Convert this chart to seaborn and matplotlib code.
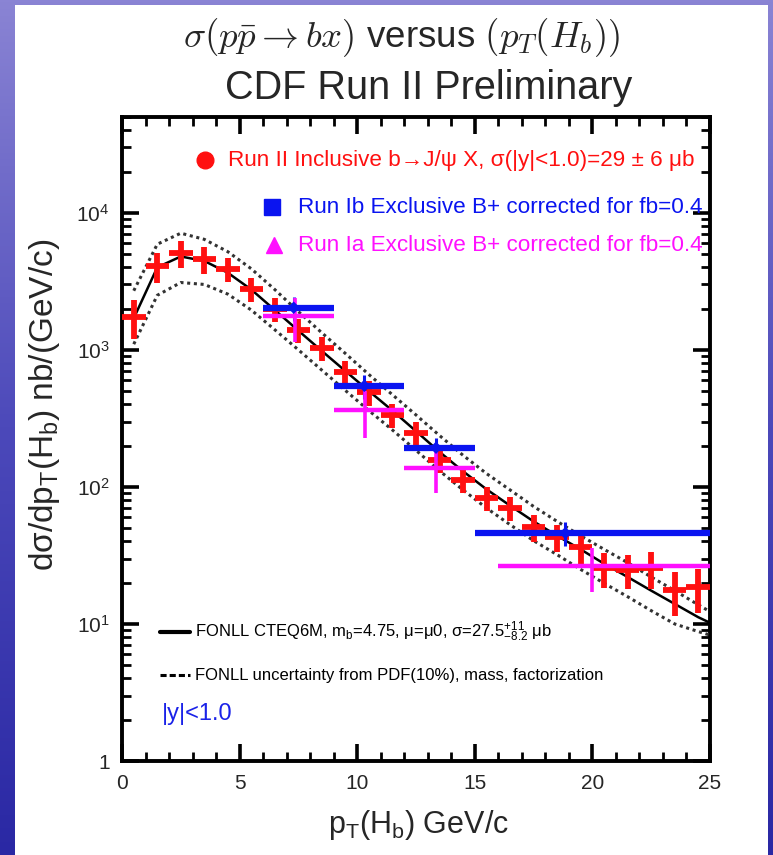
import numpy as np
import pandas as pd
import matplotlib
matplotlib.use("Agg")
import matplotlib.pyplot as plt
from matplotlib.patches import Rectangle
from matplotlib.colors import LinearSegmentedColormap
from matplotlib.ticker import FixedLocator, FixedFormatter, NullFormatter
import seaborn as sns

# ---------------- data ----------------
red_x = [0.5, 1.5, 2.5, 3.5, 4.5, 5.5, 6.5, 7.5, 8.5, 9.5, 10.5, 11.5, 12.5,
         13.5, 14.5, 15.5, 16.5, 17.5, 18.5, 19.5, 20.5, 21.5, 22.5, 23.5, 24.5]
red_y = [1750, 4100, 5100, 4600, 3900, 2800, 2000, 1400, 1035, 690, 490, 336, 248,
         157, 113, 83, 70, 51, 43, 36.5, 25.6, 24.8, 25.6, 17.7, 18.6]
red_xerr = [0.5] * 25
red_yerr_frac = [0.32, 0.25, 0.22, 0.22, 0.2, 0.2, 0.2, 0.2, 0.2, 0.2, 0.2, 0.2, 0.2,
                 0.2, 0.2, 0.2, 0.2, 0.22, 0.22, 0.25, 0.28, 0.28, 0.3, 0.35, 0.35]

blue_x = [7.3, 10.3, 13.35, 18.85]
blue_lo = [6.0, 9.0, 12.0, 15.0]
blue_hi = [9.0, 12.0, 15.0, 25.0]
blue_y = [2030, 546, 193, 46]
blue_yerr_frac = [0.2, 0.2, 0.18, 0.2]

mag_x = [7.35, 10.35, 13.35, 20.0]
mag_lo = [6.0, 9.0, 12.0, 16.0]
mag_hi = [9.0, 12.0, 15.0, 25.0]
mag_y = [1770, 365, 138, 26.5]
mag_yerr_frac = [0.35, 0.38, 0.35, 0.35]

theory_x = [0.5, 1.5, 2.5, 3.5, 4.5, 5.5, 6.5, 7.5, 8.5, 9.5, 10.5, 11.5, 12.5,
            13.5, 14.5, 15.5, 16.5, 17.5, 18.5, 19.5, 20.5, 21.5, 22.5, 23.5, 24.5, 25.0]
theory_c = [1700, 4000, 4800, 4450, 3650, 2750, 1950, 1380, 980, 700, 500, 360, 255,
            180, 130, 96, 73, 56, 44, 35, 27.5, 22, 17.5, 14, 11.2, 10.2]
theory_up = [2700, 5900, 7100, 6400, 5200, 3900, 2750, 1900, 1330, 940, 660, 470, 335,
             237, 170, 125, 95, 72, 56, 44, 35, 28, 22, 17.5, 13.8, 12.3]
theory_dn = [1100, 2500, 3100, 3000, 2550, 1950, 1400, 1000, 710, 505, 360, 260, 185,
             131, 95, 70, 53, 40.5, 32, 25, 19.8, 15.8, 12.5, 10, 8.8, 8.3]

x_ticks = [0, 5, 10, 15, 20, 25]
x_ticklabels = ["0", "5", "10", "15", "20", "25"]
y_ticks = [1, 10, 100, 1000, 10000]
y_ticklabels = ["1", "$10^1$", "$10^2$", "$10^3$", "$10^4$"]

leg_red = "Run II Inclusive b\u2192J/\u03c8 X, \u03c3(|y|<1.0)=29 \u00b1 6 \u03bcb"
leg_blue = "Run Ib Exclusive B+ corrected for fb=0.4"
leg_mag = "Run Ia Exclusive B+ corrected for fb=0.4"
leg_th1 = "FONLL CTEQ6M, m$_\\mathregular{b}$=4.75, \u03bc=\u03bc0, \u03c3=27.5$^\\mathregular{+11}_\\mathregular{-8.2}$ \u03bcb"
leg_th2 = "FONLL uncertainty from PDF(10%), mass, factorization"

# ---------------- style ----------------
sns.set_theme(style="ticks")
FAM = ["Liberation Sans", "DejaVu Sans"]
plt.rcParams["font.family"] = FAM
plt.rcParams["mathtext.fontset"] = "custom"
plt.rcParams["mathtext.rm"] = "Liberation Sans"
plt.rcParams["mathtext.it"] = "Liberation Sans:italic"

W, H = 773, 855
fig = plt.figure(figsize=(W / 100, H / 100), dpi=100)

# background gradient
bg = fig.add_axes([0, 0, 1, 1], zorder=-10)
cmap = LinearSegmentedColormap.from_list("bgblue", ["#8a84d4", "#4c49ba", "#2a28a4"])
grad = np.linspace(0, 1, 256).reshape(-1, 1)
bg.imshow(grad, aspect="auto", cmap=cmap, extent=[0, 1, 0, 1], origin="upper")
bg.set_axis_off()
fig.patches.append(Rectangle((15 / W, 0), (768 - 15) / W, (H - 5) / H,
                             transform=fig.transFigure, facecolor="white",
                             edgecolor="none", zorder=-5))

ax = fig.add_axes([122 / W, 1 - 761 / H, (710 - 122) / W, (761 - 117) / H])
ax.set_facecolor("white")
ax.set_yscale("log")
ax.set_xlim(0, 25)
ax.set_ylim(1, 5e4)

# theory curves
th = pd.DataFrame({"x": theory_x, "c": theory_c, "up": theory_up, "dn": theory_dn})
sns.lineplot(data=th, x="x", y="c", ax=ax, color="black", lw=1.8, zorder=3)
sns.lineplot(data=th, x="x", y="up", ax=ax, color="#333333", lw=2.2,
             linestyle=(0, (1.0, 1.2)), zorder=3)
sns.lineplot(data=th, x="x", y="dn", ax=ax, color="#333333", lw=2.2,
             linestyle=(0, (1.0, 1.2)), zorder=3)

# Red data
ry = np.array(red_y); rf = np.array(red_yerr_frac)
ax.errorbar(red_x, red_y, xerr=red_xerr, yerr=ry * rf, fmt="none",
            ecolor="#ff1010", elinewidth=4.2, capsize=0, zorder=4)

# Blue data
by = np.array(blue_y)
bx = np.array(blue_x)
bxerr = [bx - np.array(blue_lo), np.array(blue_hi) - bx]
ax.errorbar(blue_x, blue_y, xerr=bxerr, fmt="none", ecolor="#0a14f0",
            elinewidth=4.5, capsize=0, zorder=5)
ax.errorbar(blue_x, blue_y, yerr=by * np.array(blue_yerr_frac), fmt="none",
            ecolor="#0a14f0", elinewidth=2.2, capsize=0, zorder=5)
sns.scatterplot(x=blue_x, y=blue_y, ax=ax, marker="D", s=40, color="#0a14f0",
                edgecolor="none", zorder=6)

# Magenta data
my = np.array(mag_y)
mx = np.array(mag_x)
mxerr = [mx - np.array(mag_lo), np.array(mag_hi) - mx]
ax.errorbar(mag_x, mag_y, xerr=mxerr, fmt="none", ecolor="#ff10ff",
            elinewidth=3.2, capsize=0, zorder=5)
ax.errorbar(mag_x, mag_y, yerr=my * np.array(mag_yerr_frac), fmt="none",
            ecolor="#ff10ff", elinewidth=2.6, capsize=0, zorder=5)

# axes styling
for sp in ax.spines.values():
    sp.set_visible(True)
    sp.set_linewidth(2.8)
    sp.set_color("black")
ax.xaxis.set_major_locator(FixedLocator(x_ticks))
ax.xaxis.set_major_formatter(FixedFormatter(x_ticklabels))
ax.xaxis.set_minor_locator(FixedLocator(np.arange(0, 25.01, 1.0)))
ax.yaxis.set_major_locator(FixedLocator(y_ticks))
ax.yaxis.set_major_formatter(FixedFormatter(y_ticklabels))
ax.yaxis.set_minor_locator(matplotlib.ticker.LogLocator(base=10, subs=np.arange(2, 10)))
ax.yaxis.set_minor_formatter(NullFormatter())
ax.tick_params(which="both", direction="in", top=True, right=True, color="black")
ax.tick_params(which="major", length=12, width=2.6, labelsize=15, pad=9)
ax.tick_params(which="minor", length=6.5, width=2.0)
ax.set_xlabel("")
ax.set_ylabel("")

# legend (manual, as in the original)
ax.plot([0.141], [0.933], transform=ax.transAxes, marker="o", ms=12,
        color="#ff1010", ls="none", clip_on=False)
ax.text(0.180, 0.933, leg_red, transform=ax.transAxes, color="#ff1010",
        fontsize=16.2, va="center", ha="left", family=FAM)
ax.plot([0.255], [0.860], transform=ax.transAxes, marker="s", ms=11,
        color="#0a14f0", ls="none", clip_on=False)
ax.text(0.299, 0.860, leg_blue, transform=ax.transAxes, color="#0a14f0",
        fontsize=16.2, va="center", ha="left", family=FAM)
ax.plot([0.259], [0.801], transform=ax.transAxes, marker="^", ms=11,
        color="#ff10ff", ls="none", clip_on=False)
ax.text(0.299, 0.801, leg_mag, transform=ax.transAxes, color="#ff10ff",
        fontsize=16.2, va="center", ha="left", family=FAM)

ax.plot([0.065, 0.116], [0.200, 0.200], transform=ax.transAxes, color="black", lw=3)
ax.text(0.124, 0.200, leg_th1, transform=ax.transAxes, color="black",
        fontsize=12, va="center", ha="left", family=FAM)
ax.plot([0.065, 0.116], [0.1335, 0.1335], transform=ax.transAxes, color="black",
        lw=2.2, linestyle=(0, (2.0, 1.0)))
ax.text(0.124, 0.1335, leg_th2, transform=ax.transAxes, color="black",
        fontsize=12, va="center", ha="left", family=FAM)
ax.text(0.068, 0.073, "|y|<1.0", transform=ax.transAxes, color="#1a22e8",
        fontsize=17, va="center", ha="left", family=FAM)

# titles and axis labels
fig.text(402 / W, 1 - 38 / H,
         r"$\sigma(p\bar{p} \rightarrow bx)$ versus $(p_T(H_b))$",
         ha="center", va="center", fontsize=26.5, math_fontfamily="cm", family=FAM)
fig.text(429 / W, 1 - 88 / H, "CDF Run II Preliminary", ha="center", va="center",
         fontsize=28.5, family=FAM)
fig.text(45 / W, 1 - 405 / H,
         "d\u03c3/dp$_\\mathregular{T}$(H$_\\mathregular{b}$) nb/(GeV/c)",
         ha="center", va="center", rotation=90, fontsize=24, family=FAM)
fig.text(418 / W, 1 - 825 / H, "p$_\\mathregular{T}$(H$_\\mathregular{b}$) GeV/c",
         ha="center", va="center", fontsize=22, family=FAM)

fig.savefig("out.png", dpi=100)
